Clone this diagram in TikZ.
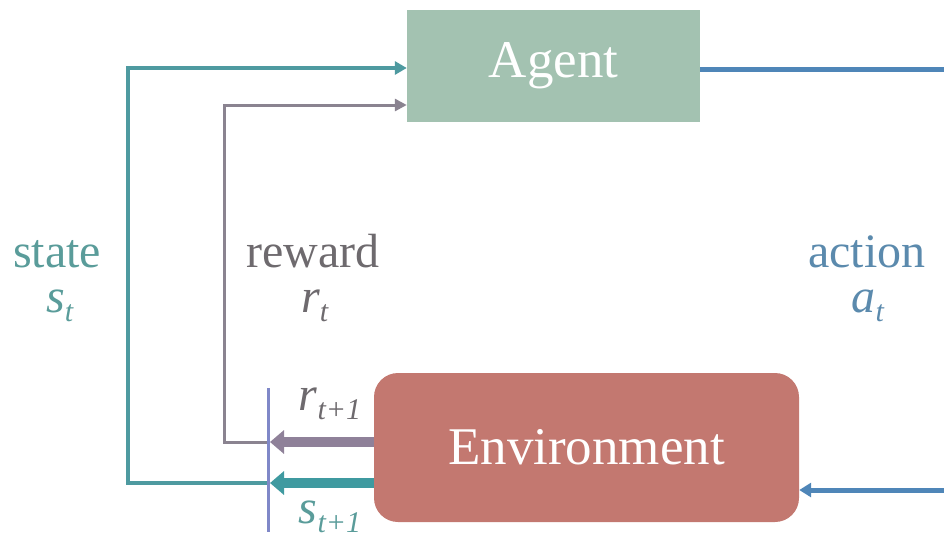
\documentclass[tikz,border=0pt]{standalone}
\usepackage{fontspec}
\setmainfont{Liberation Serif}
\usetikzlibrary{arrows.meta}

\definecolor{agentfill}{HTML}{A3C2B1}
\definecolor{envfill}{HTML}{C37870}
\definecolor{stateclr}{HTML}{4E9AA0}
\definecolor{statetxt}{HTML}{5A9C9A}
\definecolor{rewardclr}{HTML}{8A8390}
\definecolor{rewardtxt}{HTML}{6E6A6E}
\definecolor{actclr}{HTML}{4F86B8}
\definecolor{acttxt}{HTML}{5B8AAD}
\definecolor{barclr}{HTML}{8088C8}
\definecolor{rthick}{HTML}{8F8199}
\definecolor{sthick}{HTML}{3F9AA0}

\newcommand{\rlsub}[2]{\textit{#1}\raisebox{-9pt}{\fontsize{30}{30}\selectfont\textit{#2}}}

\tikzset{
	box/.style={inner sep=0pt, text=white, font=\fontsize{53}{53}\selectfont},
	lbl/.style={anchor=base, font=\fontsize{48}{48}\selectfont},
	stateline/.style={stateclr, line width=4pt, -{Triangle[length=12pt,width=13pt]}},
	rewardline/.style={rewardclr, line width=3pt, -{Triangle[length=12pt,width=12pt]}},
	actline/.style={actclr, line width=5pt, -{Triangle[length=12pt,width=14pt]}},
	fatarrow/.style={line width=10pt, -{Triangle[length=14pt,width=23pt]}}
}

\begin{document}
\begin{tikzpicture}[x=1pt,y=-1pt]
	\useasboundingbox (0,0) rectangle (944,541);

	\node[box, fill=agentfill, minimum width=293pt, minimum height=112pt] (agent) at (553.5,66) {Agent};
	\node[box, fill=envfill, rounded corners=24pt, minimum width=425pt, minimum height=149pt] (env) at (586.5,447.5) {Environment};

	% joining bar and corners
	\coordinate (bartop) at (268,388);
	\coordinate (barbot) at (268,532);
	\coordinate (sjoin) at (268,483);
	\coordinate (rjoin) at (268,442);
	\coordinate (scorner) at (128,68);
	\coordinate (rcorner) at (224,105);
	\coordinate (acorner) at (960,69);
	\coordinate (aend) at (960,490);

	\draw[stateline] (sjoin) -| (scorner) -- (scorner -| agent.west);
	\draw[rewardline] (rjoin) -| (rcorner) -- (rcorner -| agent.west);
	\draw[actline] (agent.east |- acorner) -- (acorner) -- (aend) -- (aend -| env.east);

	\draw[fatarrow, rthick] (env.west |- rjoin) -- ([xshift=2pt]rjoin);
	\draw[fatarrow, sthick] (env.west |- sjoin) -- ([xshift=2pt]sjoin);
	\draw[barclr, line width=3pt] (bartop) -- (barbot);

	% labels
	\node[lbl, text=statetxt] (statelbl) at (57,267) {state};
	\node[lbl, text=statetxt] (stlbl) at (60,312) {\rlsub{s}{t}};
	\node[lbl, text=rewardtxt] (rewardlbl) at (313,267) {reward};
	\node[lbl, text=rewardtxt] (rtlbl) at (315,312) {\rlsub{r}{t}};
	\node[lbl, text=acttxt] (actlbl) at (867,267) {action};
	\node[lbl, text=acttxt] (atlbl) at (868,312) {\rlsub{a}{t}};
	\node[lbl, text=rewardtxt] (rnextlbl) at (330,410) {\rlsub{r}{t+1}};
	\node[lbl, text=statetxt] (snextlbl) at (330,523) {\rlsub{s}{t+1}};
\end{tikzpicture}
\end{document}
